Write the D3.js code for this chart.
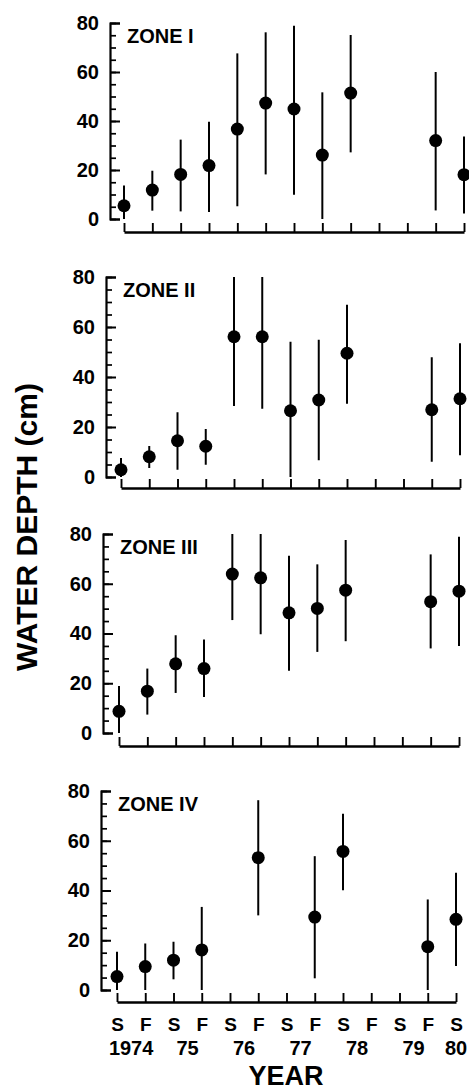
<!DOCTYPE html>
<html><head><meta charset="utf-8">
<script src="https://cdn.jsdelivr.net/npm/d3@7"></script>
<style>
html,body{margin:0;padding:0;background:#fff;}
svg{display:block;font-family:"Liberation Sans",Arial,sans-serif;font-weight:bold;}
</style></head>
<body>
<script>
// ---- data ----
const seasons = ["S","F","S","F","S","F","S","F","S","F","S","F","S"];
const yearLabels = ["1974","75","76","77","78","79","80"];
const zoneNames = ["ZONE I","ZONE II","ZONE III","ZONE IV"];
const yTicks = [0,20,40,60,80];

const zone1Mean = [5.4, 11.8, 18.2, 21.8, 36.7, 47.3, 44.9, 26.1, 51.4, null, null, 32.0, 18.1];
const zone1Low  = [0, 3.4, 3.1, 2.9, 5.2, 18.2, 9.9, 0, 27.2, null, null, 3.5, 2.2];
const zone1High = [13.7, 19.7, 32.4, 39.7, 67.6, 76.2, 78.9, 51.7, 75.1, null, null, 60.0, 33.7];

const zone2Mean = [2.9, 8.1, 14.5, 12.3, 56.1, 56.1, 26.5, 30.8, 49.5, null, null, 26.9, 31.3];
const zone2Low  = [0, 3.6, 2.9, 4.9, 28.4, 27.3, 0, 6.7, 29.3, null, null, 6.1, 8.7];
const zone2High = [7.6, 12.4, 25.9, 19.2, 80, 80, 54.1, 54.9, 68.9, null, null, 47.9, 53.5];

const zone3Mean = [8.7, 16.8, 27.8, 25.9, 63.9, 62.4, 48.3, 50.1, 57.4, null, null, 52.8, 57.0];
const zone3Low  = [0, 7.4, 16.1, 14.5, 45.4, 39.7, 25.0, 32.6, 36.9, null, null, 34.0, 35.0];
const zone3High = [18.9, 25.9, 39.3, 37.6, 80, 80, 71.3, 67.8, 77.6, null, null, 71.8, 78.9];

const zone4Mean = [5.4, 9.4, 12.0, 16.1, null, 53.2, null, 29.3, 55.7, null, null, 17.4, 28.4];
const zone4Low  = [0, 0, 4.3, 0, null, 30.0, null, 4.7, 40.1, null, null, 0, 9.6];
const zone4High = [15.4, 18.7, 19.4, 33.4, null, 76.3, null, 53.8, 70.9, null, null, 36.4, 47.1];

const zoneMeans = [zone1Mean, zone2Mean, zone3Mean, zone4Mean];
const zoneLows  = [zone1Low, zone2Low, zone3Low, zone4Low];
const zoneHighs = [zone1High, zone2High, zone3High, zone4High];

// ---- layout (per panel, the scan is slightly skewed) ----
const W = 469, H = 1091;
const FONT = "'Liberation Sans', Arial, sans-serif";
const panels = [
  {yAxisX:110, x0:124, x1:464, yTop:23,  yBot:219, xAxisY:232},
  {yAxisX:106, x0:121, x1:460, yTop:277, yBot:477, xAxisY:488},
  {yAxisX:103, x0:119, x1:459, yTop:534, yBot:733, xAxisY:746},
  {yAxisX:101, x0:117, x1:456, yTop:791, yBot:990, xAxisY:1002}
];

const svg = d3.select("body").append("svg").attr("width", W).attr("height", H);

panels.forEach((p, zi) => {
  const idx = d3.range(seasons.length);
  const x = d3.scaleLinear().domain([0, seasons.length - 1]).range([p.x0, p.x1]);
  const y = d3.scaleLinear().domain([0, 80]).range([p.yBot, p.yTop]);
  const g = svg.append("g");

  // minor y ticks
  g.append("g").attr("transform", `translate(${p.yAxisX},0)`)
    .call(d3.axisLeft(y).tickValues(d3.range(0, 81, 5)).tickSize(-6).tickSizeOuter(0).tickFormat(""))
    .call(s => s.select(".domain").remove())
    .call(s => s.selectAll("line").attr("stroke-width", 1.7));

  // major y axis
  g.append("g").attr("transform", `translate(${p.yAxisX},0)`)
    .call(d3.axisLeft(y).tickValues(yTicks).tickSize(-10).tickSizeOuter(-10).tickPadding(11))
    .call(s => s.select(".domain").attr("stroke-width", 2.2))
    .call(s => s.selectAll("line").attr("stroke-width", 2))
    .call(s => s.selectAll("text").attr("font-size", 20).attr("font-weight", "bold")
      .attr("font-family", FONT).attr("fill", "#000"));

  // x axis
  g.append("g").attr("transform", `translate(0,${p.xAxisY})`)
    .call(d3.axisBottom(x).tickValues(idx).tickSize(-9).tickSizeOuter(0).tickPadding(16)
      .tickFormat(zi === 3 ? (i => seasons[i]) : ""))
    .call(s => s.select(".domain").attr("stroke-width", 2.4))
    .call(s => s.selectAll("line").attr("stroke-width", 1.9))
    .call(s => s.selectAll("text").attr("font-size", 19).attr("font-weight", "bold")
      .attr("font-family", FONT).attr("fill", "#000"));

  // zone label
  g.append("text").attr("x", p.yAxisX + 17).attr("y", y(80) + 20)
    .attr("font-size", 20).attr("fill", "#000").text(zoneNames[zi]);

  // error bars and points
  const pts = idx.filter(i => zoneMeans[zi][i] != null);
  g.selectAll("line.err").data(pts).join("line").attr("class", "err")
    .attr("x1", i => x(i)).attr("x2", i => x(i))
    .attr("y1", i => y(zoneLows[zi][i])).attr("y2", i => y(zoneHighs[zi][i]))
    .attr("stroke", "#000").attr("stroke-width", 2);
  g.selectAll("circle").data(pts).join("circle")
    .attr("cx", i => x(i)).attr("cy", i => y(zoneMeans[zi][i])).attr("r", 6.5).attr("fill", "#000");

  if (zi === 3) {
    g.selectAll("text.year").data(yearLabels).join("text").attr("class", "year")
      .attr("x", (d, k) => k < 6 ? (x(2 * k) + x(2 * k + 1)) / 2 : x(12))
      .attr("y", 1055).attr("text-anchor", "middle").attr("font-size", 20).attr("fill", "#000")
      .text(d => d);
  }
});

// axis titles
svg.append("text").attr("x", 286).attr("y", 1085).attr("text-anchor", "middle")
  .attr("font-size", 27).attr("fill", "#000").text("YEAR");
svg.append("text").attr("transform", "translate(37,527) rotate(-90)").attr("text-anchor", "middle")
  .attr("font-size", 30).attr("fill", "#000").text("WATER DEPTH (cm)");
</script>
</body></html>
